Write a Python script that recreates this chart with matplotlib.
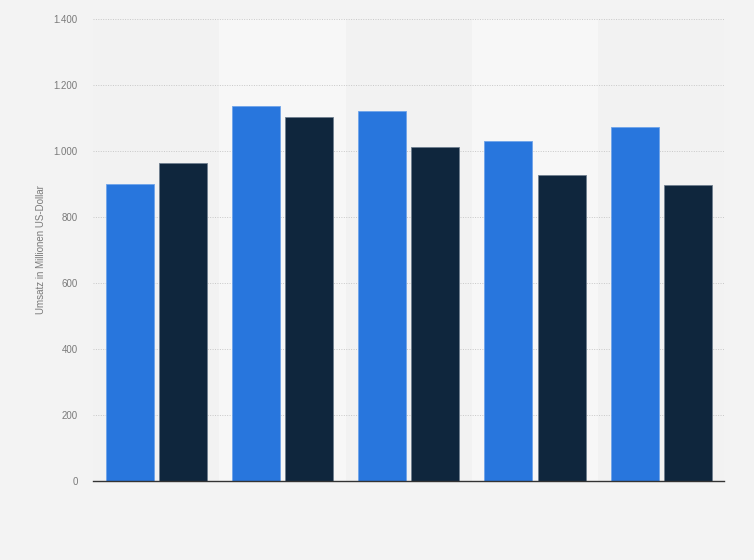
import numpy as np
import matplotlib.pyplot as plt
from matplotlib.ticker import FuncFormatter

plt.rcParams['font.family'] = ['Liberation Sans', 'DejaVu Sans']

groups = ['1', '2', '3', '4', '5']
series_a = [899, 1138, 1121, 1029, 1072]
series_b = [963, 1102, 1011, 926, 896]
yticks = [0, 200, 400, 600, 800, 1000, 1200, 1400]

fig = plt.figure(figsize=(7.54, 5.6), dpi=100)
fig.patch.set_facecolor('#f3f3f3')
ax = fig.add_axes([0.1233, 0.141, 0.8375, 0.825])
ax.set_facecolor('#f2f2f2')

x = np.arange(len(groups))
# lighter bands behind every second group
for i in x:
    if i % 2 == 1:
        ax.axvspan(i - 0.5, i + 0.5, color='#f7f7f7', zorder=0, lw=0)

w = 0.38
ax.bar(x - 0.21, series_a, w, color='#2876dd', edgecolor='#6fa4ea', linewidth=0.6, zorder=3)
ax.bar(x + 0.21, series_b, w, color='#0f263d', edgecolor='#6f7f8f', linewidth=0.6, zorder=3)

ax.set_xlim(-0.5, len(groups) - 0.5)
ax.set_ylim(0, 1400)
ax.set_yticks(yticks)
ax.yaxis.set_major_formatter(FuncFormatter(lambda v, p: f'{int(v):,}'.replace(',', '.')))
ax.grid(axis='y', color='#c8c8c8', linestyle=(0, (1, 1.5)), linewidth=0.7, zorder=1)
ax.set_xticks([])
ax.tick_params(axis='y', length=0, pad=11, labelsize=7, labelcolor='#7a7a7a')

for s in ['top', 'right', 'left']:
    ax.spines[s].set_visible(False)
ax.spines['bottom'].set_color('#333333')
ax.spines['bottom'].set_linewidth(1.0)
ax.spines['bottom'].set_zorder(4)

ax.set_ylabel('Umsatz in Millionen US-Dollar', fontsize=7, color='#7a7a7a')
ax.yaxis.set_label_coords(-0.074, 0.5)

fig.savefig('out.png', dpi=100, facecolor=fig.get_facecolor())
